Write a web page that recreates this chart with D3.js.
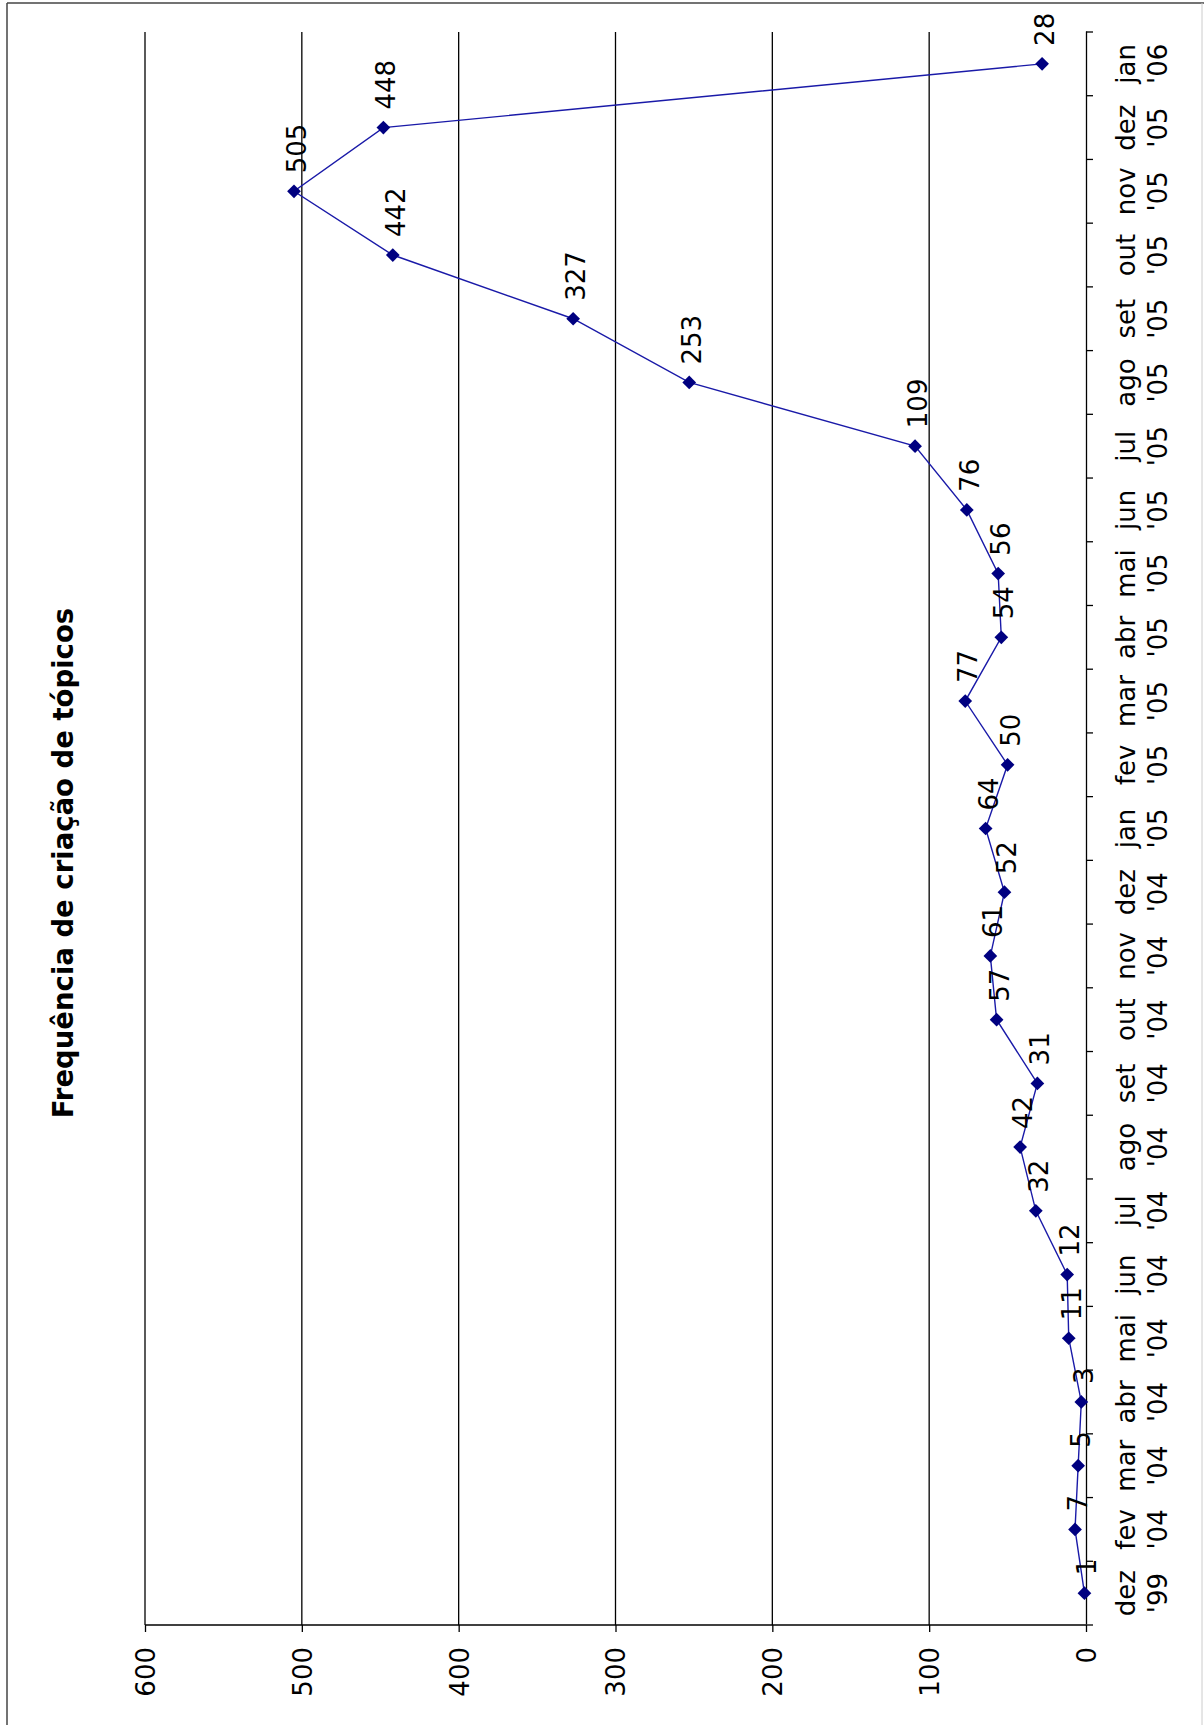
<!DOCTYPE html>
<meta charset="utf-8">
<style>
body { margin: 0; background: #fff; }
text { font-family: "DejaVu Sans", sans-serif; fill: #000; }
.grid line { stroke: #000; stroke-width: 1.3px; }
.axis path, .axis line { stroke: #000; stroke-width: 1.3px; }
.line { fill: none; stroke: #1a1aa8; stroke-width: 1.4px; }
</style>
<body>
<script src="https://d3js.org/d3.v7.min.js"></script>
<script>

// data
var months = ["dez", "fev", "mar", "abr", "mai", "jun", "jul", "ago", "set", "out", "nov", "dez",
              "jan", "fev", "mar", "abr", "mai", "jun", "jul", "ago", "set", "out", "nov", "dez", "jan"];
var years = ["'99", "'04", "'04", "'04", "'04", "'04", "'04", "'04", "'04", "'04", "'04", "'04",
             "'05", "'05", "'05", "'05", "'05", "'05", "'05", "'05", "'05", "'05", "'05", "'05", "'06"];
var topics = [1, 7, 5, 3, 11, 12, 32, 42, 31, 57, 61, 52, 64, 50, 77, 54, 56, 76, 109, 253, 327, 442, 505, 448, 28];
var valueTicks = [0, 100, 200, 300, 400, 500, 600];
var title = "Frequência de criação de tópicos";

var W = 1204, H = 1725;

var data = months.map(function(m, i) {
  return { key: i, month: m, year: years[i], value: topics[i] };
});

var svg = d3.select("body").append("svg")
    .attr("width", W)
    .attr("height", H);

// page frame
svg.append("line").attr("x1", 7).attr("y1", 3).attr("x2", W).attr("y2", 3)
    .style("stroke", "#444").style("stroke-width", 1.5);
svg.append("line").attr("x1", 7).attr("y1", 3).attr("x2", 7).attr("y2", H)
    .style("stroke", "#444").style("stroke-width", 1.5);
svg.append("line").attr("x1", 1202).attr("y1", 3).attr("x2", 1202).attr("y2", H)
    .style("stroke", "#ccc").style("stroke-width", 1);

// the chart is drawn upright and then turned a quarter turn to the left
var g = svg.append("g")
    .attr("transform", "translate(0," + H + ") rotate(-90)");

var x = d3.scaleBand()
    .domain(data.map(function(d) { return d.key; }))
    .range([100, 1693])
    .padding(0);

var y = d3.scaleLinear()
    .domain([0, 600])
    .range([1086, 145]);

// gridlines
g.append("g")
    .attr("class", "grid")
  .selectAll("line")
    .data(valueTicks.filter(function(v) { return v > 0; }))
  .enter().append("line")
    .attr("x1", x.range()[0])
    .attr("x2", x.range()[1])
    .attr("y1", function(d) { return y(d); })
    .attr("y2", function(d) { return y(d); });

// value axis
var yAxis = g.append("g")
    .attr("class", "axis")
    .attr("transform", "translate(" + x.range()[0] + ",0)")
    .call(d3.axisLeft(y).tickValues(valueTicks).tickSize(7).tickSizeOuter(0).tickPadding(15));
yAxis.selectAll("text")
    .style("font-size", "26px")
    .attr("dy", "0.36em");
yAxis.select(".domain").remove();
yAxis.append("line")
    .attr("x1", 0).attr("x2", 0)
    .attr("y1", y(0)).attr("y2", y(600));

// category axis
var xAxis = g.append("g")
    .attr("class", "axis")
    .attr("transform", "translate(0," + y(0) + ")")
    .call(d3.axisBottom(x).tickSize(0).tickSizeOuter(0)
      .tickFormat(function() { return ""; }));
xAxis.selectAll(".tick line").remove();
xAxis.selectAll(".tick text").each(function(k) {
  var t = d3.select(this)
      .attr("y", 49)
      .attr("dy", 0)
      .style("font-size", "26px");
  t.append("tspan").attr("x", 0).text(data[k].month);
  t.append("tspan").attr("x", 0).attr("dy", 32).text(data[k].year);
});

// tick marks between the categories
xAxis.selectAll(".sep")
    .data(d3.range(data.length + 1))
  .enter().append("line")
    .attr("class", "sep")
    .attr("x1", function(i) { return x.range()[0] + i * x.step(); })
    .attr("x2", function(i) { return x.range()[0] + i * x.step(); })
    .attr("y1", 0)
    .attr("y2", 7);

// the series
var valueline = d3.line()
    .x(function(d) { return x(d.key) + x.bandwidth() / 2; })
    .y(function(d) { return y(d.value); });

g.append("path")
    .datum(data)
    .attr("class", "line")
    .attr("d", valueline);

g.selectAll(".dot")
    .data(data)
  .enter().append("path")
    .attr("class", "dot")
    .attr("d", d3.symbol().type(d3.symbolDiamond2).size(120))
    .attr("transform", function(d) {
      return "translate(" + (x(d.key) + x.bandwidth() / 2) + "," + y(d.value) + ")";
    })
    .style("fill", "#000080");

// data labels
g.selectAll(".lbl")
    .data(data)
  .enter().append("text")
    .attr("class", "lbl")
    .attr("x", function(d) { return x(d.key) + x.bandwidth() / 2 + 18; })
    .attr("y", function(d) { return y(d.value) + 12; })
    .style("font-size", "26px")
    .text(function(d) { return d.value; });

// title
g.append("text")
    .attr("x", 862)
    .attr("y", 73)
    .style("text-anchor", "middle")
    .style("font-size", "27.5px")
    .style("font-weight", "bold")
    .text(title);

</script>
</body>
